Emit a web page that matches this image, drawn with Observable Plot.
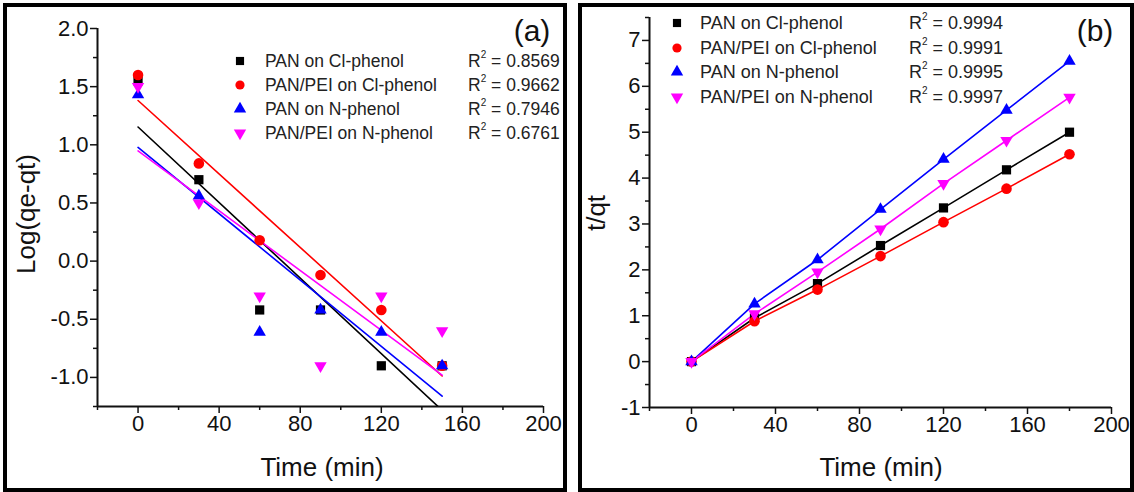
<!DOCTYPE html>
<html><head><meta charset="utf-8">
<script src="https://cdn.jsdelivr.net/npm/d3@7"></script>
<script src="https://cdn.jsdelivr.net/npm/@observablehq/plot@0.6"></script>
<style>
body{margin:0;background:#fff;font-family:"Liberation Sans",Arial,sans-serif;}
#root{position:relative;width:1134px;height:492px;overflow:hidden;background:#fff;}
.panel{position:absolute;top:0;}
.border{position:absolute;border:4px solid #000;box-sizing:border-box;pointer-events:none;}
.lbl{position:absolute;color:#111;white-space:nowrap;line-height:1;}
.leg{position:absolute;color:#222;white-space:nowrap;height:20px;line-height:20px;}
.leg sup{font-size:10px;vertical-align:top;line-height:10px;position:relative;top:-1px;}
</style></head><body><div id="root"></div>
<script>
// ---- data ----
const seriesNames = ["PAN on Cl-phenol", "PAN/PEI on Cl-phenol", "PAN on N-phenol", "PAN/PEI on N-phenol"];
const seriesColors = ["#000000", "#ff0000", "#0000ff", "#ff00ff"];
const r2A = ["0.8569", "0.9662", "0.7946", "0.6761"];
const r2B = ["0.9994", "0.9991", "0.9995", "0.9997"];

// panel (a): pseudo-first-order, Log(qe-qt) vs time
const timeA = [0, 30, 60, 90, 120, 150];
const logPAN_Cl    = [1.55, 0.70, -0.42, -0.42, -0.90, -0.90];
const logPEI_Cl    = [1.60, 0.84, 0.18, -0.12, -0.42, -0.90];
const logPAN_N     = [1.43, 0.56, -0.61, -0.42, -0.61, -0.90];
const logPEI_N     = [1.50, 0.50, -0.30, -0.90, -0.30, -0.60];

// panel (b): pseudo-second-order, t/qt vs time
const timeB = [0, 30, 60, 90, 120, 150, 180];
const tqPAN_Cl = [0, 0.95, 1.70, 2.53, 3.35, 4.18, 5.00];
const tqPEI_Cl = [0, 0.88, 1.57, 2.30, 3.04, 3.77, 4.52];
const tqPAN_N  = [0, 1.26, 2.22, 3.32, 4.41, 5.48, 6.55];
const tqPEI_N  = [0, 1.04, 1.95, 2.89, 3.88, 4.82, 5.76];

// axis ticks
const xDomain = [-20, 200];
const xMajor = [0, 40, 80, 120, 160, 200];
const xMinor = [-20, 20, 60, 100, 140, 180];
const yDomainA = [-1.25, 2.0];
const yMajorA = [-1.0, -0.5, 0.0, 0.5, 1.0, 1.5, 2.0];
const yMinorA = [-1.25, -0.75, -0.25, 0.25, 0.75, 1.25, 1.75];
const yDomainB = [-1, 7.5];
const yMajorB = [-1, 0, 1, 2, 3, 4, 5, 6, 7];
const yMinorB = [-0.5, 0.5, 1.5, 2.5, 3.5, 4.5, 5.5, 6.5, 7.5];

// ---- symbols ----
const sqrt3 = Math.sqrt(3);
const symbolTriangleDown = {
  draw(context, size) {
    const y = Math.sqrt(size / (sqrt3 * 3));
    context.moveTo(0, y * 2);
    context.lineTo(-sqrt3 * y, -y);
    context.lineTo(sqrt3 * y, -y);
    context.closePath();
  }
};
const seriesSymbols = [d3.symbolSquare, d3.symbolCircle, d3.symbolTriangle, symbolTriangleDown];
const seriesR = [5.2, 5.3, 4.6, 4.6];

function table(times, cols) {
  const rows = [];
  cols.forEach((vals, s) => vals.forEach((v, i) => rows.push({t: times[i], v, s})));
  return rows;
}
const dataA = table(timeA, [logPAN_Cl, logPEI_Cl, logPAN_N, logPEI_N]);
const dataB = table(timeB, [tqPAN_Cl, tqPEI_Cl, tqPAN_N, tqPEI_N]);

function axes(yDomain, yMajor, yMinor, yFmt) {
  const common = {fontSize: 22, fill: "#111"};
  return [
    Plot.axisX({ticks: xMajor, tickSize: 7, tickPadding: 2, tickFormat: d => String(d), label: null, strokeWidth: 1.5, ...common}),
    Plot.axisX({ticks: xMinor, tickSize: 4, tickFormat: () => "", label: null, strokeWidth: 1.5}),
    Plot.axisY({ticks: yMajor, tickSize: 7, tickPadding: 2, tickFormat: yFmt, label: null, strokeWidth: 1.5, ...common}),
    Plot.axisY({ticks: yMinor, tickSize: 4, tickFormat: () => "", label: null, strokeWidth: 1.5}),
    Plot.ruleY([yDomain[0]], {stroke: "#111", strokeWidth: 2}),
    Plot.ruleX([xDomain[0]], {stroke: "#111", strokeWidth: 2})
  ];
}

function dots(data) {
  return seriesNames.map((_, s) => Plot.dot(data.filter(d => d.s === s), {
    x: "t", y: "v", symbol: seriesSymbols[s], r: seriesR[s], fill: seriesColors[s], stroke: "none"
  }));
}

const plotStyle = {fontFamily: "'Liberation Sans', Arial, sans-serif", color: "#111", background: "transparent", overflow: "visible"};

const plotA = Plot.plot({
  width: 570, height: 492,
  marginLeft: 97, marginRight: 27, marginTop: 28, marginBottom: 86,
  x: {domain: xDomain}, y: {domain: yDomainA},
  style: plotStyle,
  marks: [
    ...axes(yDomainA, yMajorA, yMinorA, d => d.toFixed(1)),
    ...seriesNames.map((_, s) => Plot.linearRegressionY(dataA.filter(d => d.s === s), {
      x: "t", y: "v", stroke: seriesColors[s], strokeWidth: 1.6, ci: 0, clip: true
    })),
    ...dots(dataA)
  ]
});

const plotB = Plot.plot({
  width: 564, height: 492,
  marginLeft: 79, marginRight: 23, marginTop: 17, marginBottom: 85,
  x: {domain: xDomain}, y: {domain: yDomainB},
  style: plotStyle,
  marks: [
    ...axes(yDomainB, yMajorB, yMinorB, d => String(d)),
    ...seriesNames.map((_, s) => Plot.line(dataB.filter(d => d.s === s), {
      x: "t", y: "v", stroke: seriesColors[s], strokeWidth: 1.6
    })),
    ...dots(dataB)
  ]
});

const root = document.getElementById("root");
function place(el, left) {
  const wrap = document.createElement("div");
  wrap.className = "panel";
  wrap.style.left = left + "px";
  wrap.appendChild(el);
  root.appendChild(wrap);
}
place(plotA, 0);
place(plotB, 570);

function label(text, x, y, size, rotate) {
  const d = document.createElement("div");
  d.className = "lbl";
  d.textContent = text;
  d.style.fontSize = size + "px";
  d.style.left = x + "px";
  d.style.top = y + "px";
  d.style.transform = "translate(-50%,-50%)" + (rotate ? " rotate(-90deg)" : "");
  root.appendChild(d);
}
label("Log(qe-qt)", 26, 214, 26, true);
label("Time (min)", 322, 467, 26, false);
label("t/qt", 596, 213, 26, true);
label("Time (min)", 881, 467, 26, false);
label("(a)", 532, 31, 30, false);
label("(b)", 1095, 31, 30, false);

function legend(markerX, textX, r2X, topY, step, r2s, fs) {
  seriesNames.forEach((name, s) => {
    const cy = topY + s * step;
    const svg = d3.create("svg").attr("width", 16).attr("height", 16)
      .style("position", "absolute").style("left", (markerX - 8) + "px").style("top", (cy - 8) + "px");
    svg.append("path")
      .attr("transform", "translate(8,8)")
      .attr("d", d3.symbol(seriesSymbols[s], Math.PI * 4.6 * 4.6)())
      .attr("fill", seriesColors[s]);
    root.appendChild(svg.node());
    const t = document.createElement("div");
    t.className = "leg";
    t.textContent = name;
    t.style.fontSize = fs + "px";
    t.style.left = textX + "px";
    t.style.top = (cy - 10) + "px";
    root.appendChild(t);
    const r = document.createElement("div");
    r.className = "leg";
    r.innerHTML = "R<sup>2</sup> = " + r2s[s];
    r.style.fontSize = fs + "px";
    r.style.left = r2X + "px";
    r.style.top = (cy - 10) + "px";
    root.appendChild(r);
  });
}
legend(240, 265, 468, 61, 24, r2A, 17.5);
legend(677, 700, 909, 23, 24.5, r2B, 18);

// panel frames
function frame(left, top, w, h) {
  const b = document.createElement("div");
  b.className = "border";
  Object.assign(b.style, {left: left + "px", top: top + "px", width: w + "px", height: h + "px"});
  root.appendChild(b);
}
frame(3, 3, 564, 489);
frame(578, 3, 556, 489);
</script>
</body></html>
